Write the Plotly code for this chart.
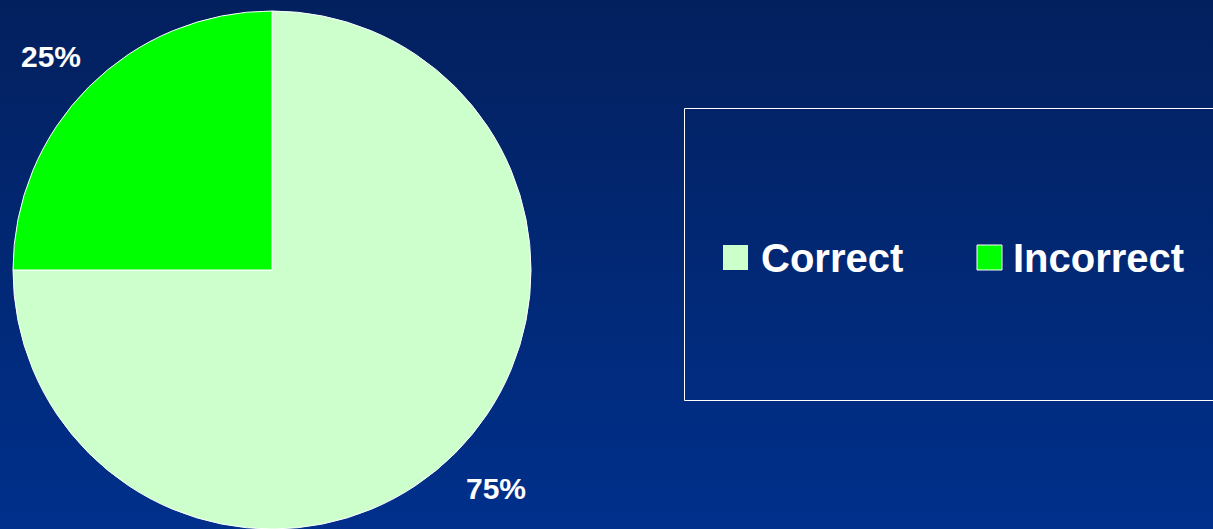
import math
import plotly.graph_objects as go

# ---- data ----
labels = ["Correct", "Incorrect"]
values = [75, 25]
colors = ["#ccffcc", "#00ff00"]

W, H = 1213, 529
BG_TOP = "#03205e"
BG_BOTTOM = "#00308c"
FONT = "Liberation Sans, Arial, sans-serif"

def px(x):
    return x / W

def py(y):
    return 1 - y / H

fig = go.Figure()

# gradient background via filled scatter
fig.add_trace(go.Scatter(
    x=[0, 1, 1, 0, 0], y=[0, 0, 1, 1, 0], mode="lines", fill="toself",
    line=dict(width=0), fillgradient=dict(type="vertical",
                                          colorscale=[[0, BG_BOTTOM], [1, BG_TOP]]),
    hoverinfo="skip", showlegend=False))

# pie
dom_x = [px(12), px(532)]
dom_y = [0, 518 / H]
fig.add_trace(go.Pie(
    labels=labels, values=values, sort=False, direction="clockwise", rotation=0,
    marker=dict(colors=colors, line=dict(color="white", width=1)),
    textinfo="none", hoverinfo="skip", showlegend=False,
    domain=dict(x=dom_x, y=dom_y)))

# percentage labels outside, at slice mid-angles
cx, cy = 272, 270
r_lab = 312
label_shift = [(3, 2), (0, -7)]  # small per-label nudges (px)
total = sum(values)
acc = 0
annotations = []
for i, v in enumerate(values):
    mid = (acc + v / 2) / total * 2 * math.pi
    acc += v
    lx = cx + r_lab * math.sin(mid)
    ly = cy - r_lab * math.cos(mid)
    annotations.append(dict(
        x=px(lx), y=py(ly), xref="paper", yref="paper", showarrow=False,
        text="<b>%d%%</b>" % round(v / total * 100),
        font=dict(family=FONT, size=30, color="white"),
        xshift=label_shift[i][0], yshift=label_shift[i][1],
        xanchor="center", yanchor="middle"))

# legend (drawn manually to match large swatches)
shapes = [dict(type="rect", xref="paper", yref="paper",
               x0=px(684.5), x1=px(1220), y0=py(108.5), y1=py(400.5),
               line=dict(color="white", width=1), fillcolor="rgba(0,0,0,0)")]
sw_x = [723, 977]
tx_x = [759, 1011]
for i, lab in enumerate(labels):
    shapes.append(dict(type="rect", xref="paper", yref="paper",
                       x0=px(sw_x[i]), x1=px(sw_x[i] + 25), y0=py(245), y1=py(270),
                       line=dict(color="white", width=1 if i == 1 else 0),
                       fillcolor=colors[i]))
    annotations.append(dict(
        x=px(tx_x[i]), y=py(258), xref="paper", yref="paper", showarrow=False,
        text="<b>%s</b>" % lab, font=dict(family=FONT, size=40, color="white"),
        xanchor="left", yanchor="middle"))

fig.update_layout(
    width=W, height=H, margin=dict(l=0, r=0, t=0, b=0, pad=0),
    paper_bgcolor=BG_BOTTOM, plot_bgcolor="rgba(0,0,0,0)",
    xaxis=dict(visible=False, range=[0, 1], domain=[0, 1], fixedrange=True),
    yaxis=dict(visible=False, range=[0, 1], domain=[0, 1], fixedrange=True),
    showlegend=False, shapes=shapes, annotations=annotations)

fig.write_html("out.html", config={"displayModeBar": False})
